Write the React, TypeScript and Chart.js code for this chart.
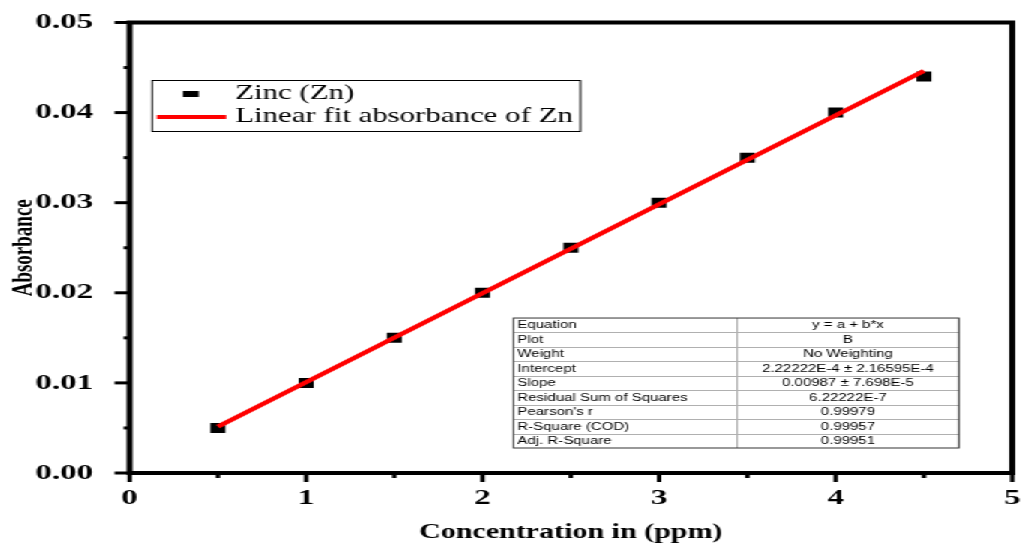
import { useEffect, useRef } from "react";
import { Chart, registerables } from "chart.js";

Chart.register(...registerables);

// Calibration data: zinc standards
const concentration = [0.5, 1, 1.5, 2, 2.5, 3, 3.5, 4, 4.5];
const absorbance = [0.005, 0.01, 0.015, 0.02, 0.025, 0.03, 0.035, 0.04, 0.044];

// Linear fit results (y = a + b*x)
const fitIntercept = 2.22222e-4;
const fitSlope = 0.00987;
const fitRange = [0.5, 4.5];

// Axis ranges and tick steps
const xRange = [0, 5];
const xMajorStep = 1;
const xMinorStep = 0.5;
const yRange = [0, 0.05];
const yMajorStep = 0.01;
const yMinorStep = 0.005;

// Fit summary table
const statNames = [
  "Equation",
  "Plot",
  "Weight",
  "Intercept",
  "Slope",
  "Residual Sum of Squares",
  "Pearson's r",
  "R-Square (COD)",
  "Adj. R-Square",
];
const statValues = [
  "y = a + b*x",
  "B",
  "No Weighting",
  "2.22222E-4 \u00b1 2.16595E-4",
  "0.00987 \u00b1 7.698E-5",
  "6.22222E-7",
  "0.99979",
  "0.99957",
  "0.99951",
];

const seriesLabels = ["Zinc (Zn)", "Linear fit absorbance of Zn"];

// The figure is drawn on a narrower canvas and widened horizontally.
const STRETCH = 1.5;
const CANVAS_W = 682;
const CANVAS_H = 544;

const SERIF = '"Liberation Serif", "Times New Roman", serif';
const SANS = '"Liberation Sans", Arial, sans-serif';

const fitPoints = fitRange.map((x) => ({ x, y: fitIntercept + fitSlope * x }));

function stepValues(min: number, max: number, step: number) {
  const out: number[] = [];
  const n = Math.round((max - min) / step);
  for (let i = 0; i <= n; i++) out.push(min + i * step);
  return out;
}

// Frame and outward tick marks (major + minor)
const framePlugin = {
  id: "frame",
  afterDraw(chart: any) {
    const { ctx, chartArea: a, scales } = chart;
    const xs = scales.x;
    const ys = scales.y;
    ctx.save();
    ctx.strokeStyle = "#000";
    ctx.lineCap = "butt";
    ctx.lineWidth = 3;
    const xMinorPerMajor = Math.round(xMajorStep / xMinorStep);
    stepValues(xRange[0], xRange[1], xMinorStep).forEach((v, i) => {
      const px = xs.getPixelForValue(v);
      const len = i % xMinorPerMajor === 0 ? 9 : 5;
      ctx.beginPath();
      ctx.moveTo(px, a.bottom);
      ctx.lineTo(px, a.bottom + len);
      ctx.stroke();
    });
    const yMinorPerMajor = Math.round(yMajorStep / yMinorStep);
    stepValues(yRange[0], yRange[1], yMinorStep).forEach((v, i) => {
      const py = ys.getPixelForValue(v);
      const len = i % yMinorPerMajor === 0 ? 10 : 4;
      ctx.beginPath();
      ctx.moveTo(a.left, py);
      ctx.lineTo(a.left - len, py);
      ctx.stroke();
    });
    ctx.lineWidth = 4;
    ctx.strokeRect(a.left, a.top, a.right - a.left, a.bottom - a.top);
    ctx.restore();
  },
};

// Boxed legend inside the plot area
const legendPlugin = {
  id: "boxLegend",
  afterDraw(chart: any) {
    const { ctx, chartArea: a } = chart;
    const ds = chart.data.datasets;
    ctx.save();
    ctx.font = `20.6px ${SERIF}`;
    const textX = a.left + 70.4;
    const rowY = [a.top + 71.5, a.top + 94.5];
    const maxText = Math.max(...seriesLabels.map((t) => ctx.measureText(t).width));
    const boxL = a.left + 15;
    const boxT = a.top + 58;
    const boxR = textX + maxText + 5;
    const boxB = a.top + 109;
    ctx.fillStyle = "#fff";
    ctx.fillRect(boxL, boxT, boxR - boxL, boxB - boxT);
    ctx.strokeStyle = "#000";
    ctx.lineWidth = 1;
    ctx.strokeRect(boxL, boxT, boxR - boxL, boxB - boxT);

    // scatter symbol
    ctx.fillStyle = ds[1].backgroundColor;
    ctx.fillRect(a.left + 40.8 - 5.3, rowY[0] - 3, 10.6, 6);
    // fit line symbol
    ctx.strokeStyle = ds[0].borderColor;
    ctx.lineWidth = 4;
    ctx.beginPath();
    ctx.moveTo(a.left + 18.2, rowY[1]);
    ctx.lineTo(a.left + 64.4, rowY[1]);
    ctx.stroke();

    ctx.fillStyle = "#000";
    ctx.textAlign = "left";
    ctx.textBaseline = "middle";
    ctx.fillText(seriesLabels[0], textX, rowY[0]);
    ctx.fillText(seriesLabels[1], textX, rowY[1]);
    ctx.restore();
  },
};

// Fit statistics table
const tablePlugin = {
  id: "fitTable",
  afterDraw(chart: any) {
    const { ctx, chartArea: a } = chart;
    const w = a.right - a.left;
    const h = a.bottom - a.top;
    const left = a.left + 0.435 * w;
    const right = a.left + 0.9395 * w;
    const split = a.left + 0.6884 * w;
    const top = a.top + 0.656 * h;
    const bottom = a.top + 0.9445 * h;
    const rowH = (bottom - top) / statNames.length;
    ctx.save();
    ctx.fillStyle = "#fff";
    ctx.fillRect(left, top, right - left, bottom - top);
    ctx.strokeStyle = "#b0b0b0";
    ctx.lineWidth = 1;
    for (let i = 1; i < statNames.length; i++) {
      const y = Math.round(top + i * rowH) + 0.5;
      ctx.beginPath();
      ctx.moveTo(left, y);
      ctx.lineTo(right, y);
      ctx.stroke();
    }
    ctx.beginPath();
    ctx.moveTo(split, top);
    ctx.lineTo(split, bottom);
    ctx.stroke();
    ctx.strokeStyle = "#333";
    ctx.strokeRect(left, top, right - left, bottom - top);

    ctx.fillStyle = "#000";
    ctx.font = `10px ${SANS}`;
    ctx.textBaseline = "middle";
    statNames.forEach((name, i) => {
      const cy = top + (i + 0.5) * rowH + 0.5;
      ctx.textAlign = "left";
      ctx.fillText(name, left + 2.7, cy);
      ctx.textAlign = "center";
      ctx.fillText(statValues[i], (split + right) / 2, cy);
    });
    ctx.restore();
  },
};

export default function App() {
  const canvasRef = useRef<HTMLCanvasElement>(null);

  useEffect(() => {
    const canvas = canvasRef.current;
    if (!canvas) return;
    Chart.defaults.color = "#000";
    const chart = new Chart(canvas, {
      type: "scatter",
      data: {
        datasets: [
          {
            label: seriesLabels[1],
            data: fitPoints,
            showLine: true,
            borderColor: "#ff0000",
            backgroundColor: "#ff0000",
            borderWidth: 4,
            pointRadius: 0,
            fill: false,
            order: 0,
          },
          {
            label: seriesLabels[0],
            data: concentration.map((x, i) => ({ x, y: absorbance[i] })),
            showLine: false,
            pointStyle: "rect",
            pointRadius: 7.07,
            pointBorderWidth: 0,
            backgroundColor: "#000",
            borderColor: "#000",
            order: 1,
          },
        ],
      },
      options: {
        responsive: false,
        animation: false,
        devicePixelRatio: 1,
        layout: { padding: { left: 0, top: 22.5, right: 6.33, bottom: 0 } },
        plugins: {
          legend: { display: false },
          tooltip: { enabled: false },
        },
        scales: {
          x: {
            type: "linear",
            min: xRange[0],
            max: xRange[1],
            afterFit: (s: any) => {
              s.height = 71;
              s.paddingLeft = 0;
              s.paddingRight = 0;
            },
            grid: { display: false },
            border: { display: false },
            ticks: {
              stepSize: xMajorStep,
              autoSkip: false,
              maxRotation: 0,
              padding: 4.5,
              color: "#000",
              font: { family: SERIF, size: 22, weight: "bold" },
              callback: (v: any) => String(v),
            },
            title: {
              display: true,
              text: "Concentration in (ppm)",
              color: "#000",
              font: { family: SERIF, size: 20, weight: "bold", lineHeight: 1 },
              padding: { top: 0, bottom: 1 },
            },
          },
          y: {
            type: "linear",
            min: yRange[0],
            max: yRange[1],
            afterFit: (s: any) => {
              s.width = 86.33;
              s.paddingTop = 0;
              s.paddingBottom = 0;
            },
            grid: { display: false },
            border: { display: false },
            ticks: {
              stepSize: yMajorStep,
              autoSkip: false,
              padding: 16.3,
              color: "#000",
              font: { family: SERIF, size: 22, weight: "bold" },
              callback: (v: any) => Number(v).toFixed(2),
            },
            title: {
              display: true,
              text: "Absorbance",
              color: "#000",
              font: { family: SERIF, size: 19, weight: "bold", lineHeight: 1 },
              padding: { top: 6.5, bottom: 0 },
            },
          },
        },
      },
      plugins: [framePlugin, tablePlugin, legendPlugin],
    });
    return () => chart.destroy();
  }, []);

  return (
    <div
      style={{
        position: "fixed",
        left: 0,
        top: 0,
        width: CANVAS_W,
        height: CANVAS_H,
        transform: `scaleX(${STRETCH})`,
        transformOrigin: "0 0",
        background: "#fff",
      }}
    >
      <canvas ref={canvasRef} width={CANVAS_W} height={CANVAS_H} style={{ display: "block" }} />
    </div>
  );
}
